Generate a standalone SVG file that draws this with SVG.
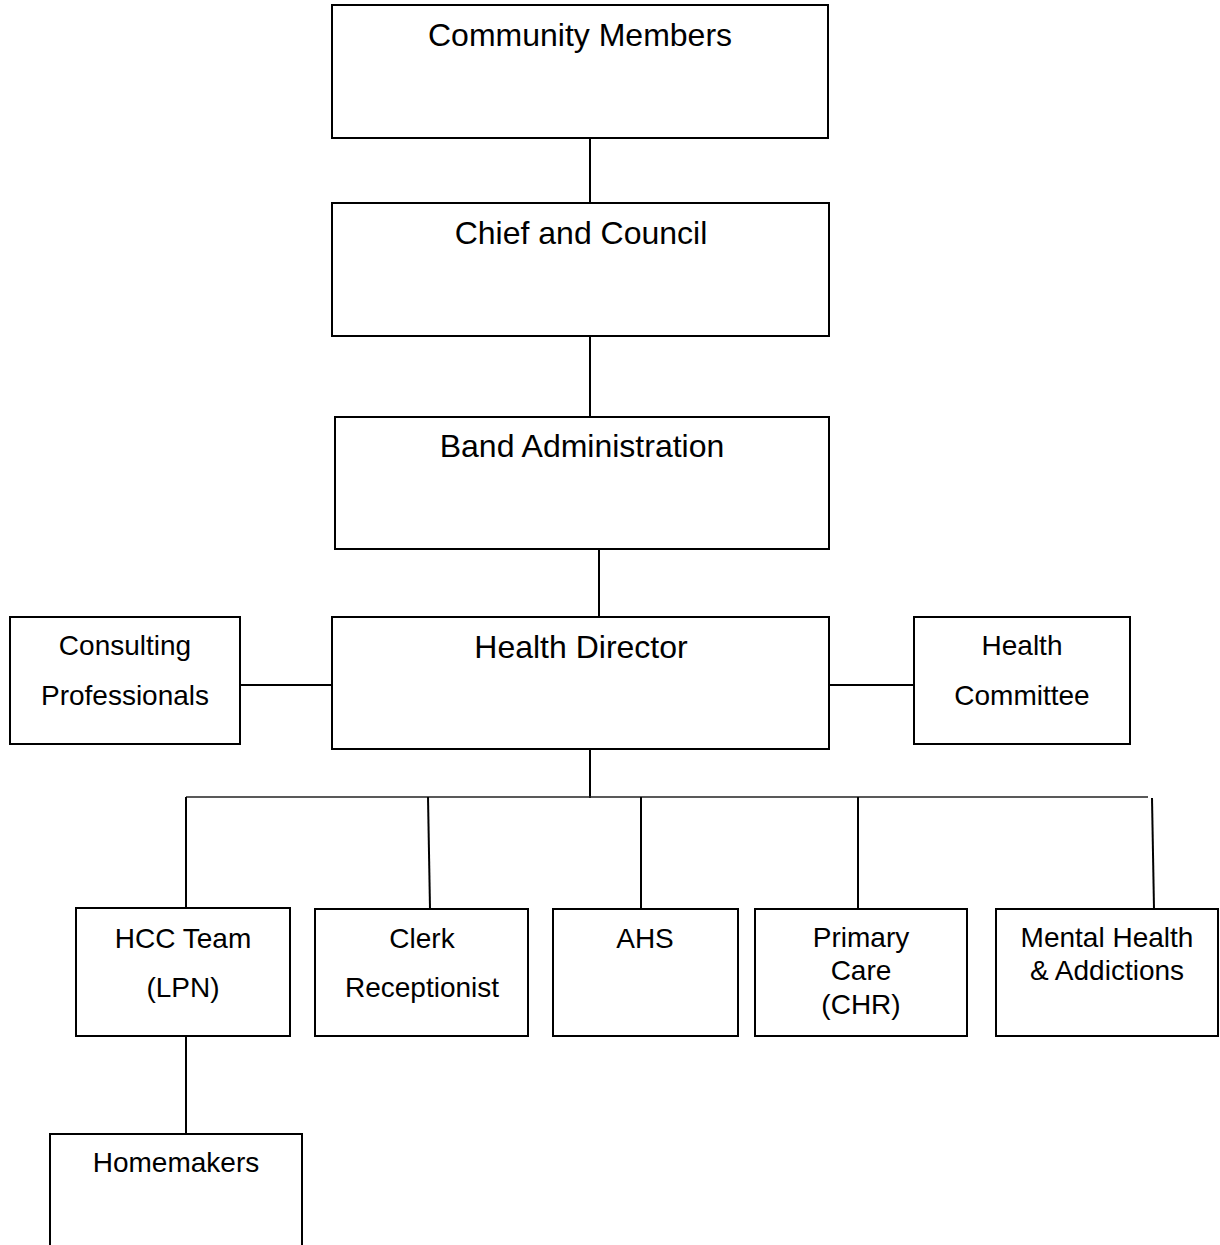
<svg xmlns="http://www.w3.org/2000/svg" width="1220" height="1245" viewBox="0 0 1220 1245">
<style>
.box{fill:#fff;stroke:#000;stroke-width:2}
.ln{stroke:#000;stroke-width:2;fill:none}
.bus{stroke:#222;stroke-width:1.5;fill:none}
.big{font-family:"Liberation Sans",Arial,sans-serif;font-size:32px;text-anchor:middle;fill:#000}
.sm{font-family:"Liberation Sans",Arial,sans-serif;font-size:28px;text-anchor:middle;fill:#000}
</style>
<rect width="1220" height="1245" fill="#fff"/>
<g id="connectors">
<line class="ln" x1="590" y1="138" x2="590" y2="203"/>
<line class="ln" x1="590" y1="336" x2="590" y2="417"/>
<line class="ln" x1="599" y1="549" x2="599" y2="617"/>
<line class="ln" x1="240" y1="685" x2="332" y2="685"/>
<line class="ln" x1="829" y1="685" x2="914" y2="685"/>
<line class="ln" x1="590" y1="749" x2="590" y2="798"/>
<line class="bus" x1="186" y1="797" x2="1148" y2="797"/>
<line class="ln" x1="186" y1="797" x2="186" y2="908"/>
<line class="ln" x1="428" y1="797" x2="430" y2="909"/>
<line class="ln" x1="641" y1="797" x2="641" y2="909"/>
<line class="ln" x1="858" y1="797" x2="858" y2="909"/>
<line class="ln" x1="1152" y1="798" x2="1154" y2="909"/>
<line class="ln" x1="186" y1="1036" x2="186" y2="1134"/>
</g>
<g id="community-members">
<rect class="box" x="332" y="5" width="496" height="133"/>
<text class="big" x="580" y="46">Community Members</text>
</g>
<g id="chief-and-council">
<rect class="box" x="332" y="203" width="497" height="133"/>
<text class="big" x="581" y="244">Chief and Council</text>
</g>
<g id="band-administration">
<rect class="box" x="335" y="417" width="494" height="132"/>
<text class="big" x="582" y="457">Band Administration</text>
</g>
<g id="health-director">
<rect class="box" x="332" y="617" width="497" height="132"/>
<text class="big" x="581" y="658">Health Director</text>
</g>
<g id="consulting-professionals">
<rect class="box" x="10" y="617" width="230" height="127"/>
<text class="sm" x="125" y="655">Consulting</text>
<text class="sm" x="125" y="705">Professionals</text>
</g>
<g id="health-committee">
<rect class="box" x="914" y="617" width="216" height="127"/>
<text class="sm" x="1022" y="655">Health</text>
<text class="sm" x="1022" y="705">Committee</text>
</g>
<g id="hcc-team">
<rect class="box" x="76" y="908" width="214" height="128"/>
<text class="sm" x="183" y="948">HCC Team</text>
<text class="sm" x="183" y="997">(LPN)</text>
</g>
<g id="clerk-receptionist">
<rect class="box" x="315" y="909" width="213" height="127"/>
<text class="sm" x="422" y="948">Clerk</text>
<text class="sm" x="422" y="997">Receptionist</text>
</g>
<g id="ahs">
<rect class="box" x="553" y="909" width="185" height="127"/>
<text class="sm" x="645" y="948">AHS</text>
</g>
<g id="primary-care">
<rect class="box" x="755" y="909" width="212" height="127"/>
<text class="sm" x="861" y="947">Primary</text>
<text class="sm" x="861" y="980">Care</text>
<text class="sm" x="861" y="1014">(CHR)</text>
</g>
<g id="mental-health">
<rect class="box" x="996" y="909" width="222" height="127"/>
<text class="sm" x="1107" y="947">Mental Health</text>
<text class="sm" x="1107" y="980">&amp; Addictions</text>
</g>
<g id="homemakers">
<rect class="box" x="50" y="1134" width="252" height="130"/>
<text class="sm" x="176" y="1172">Homemakers</text>
</g>
</svg>
